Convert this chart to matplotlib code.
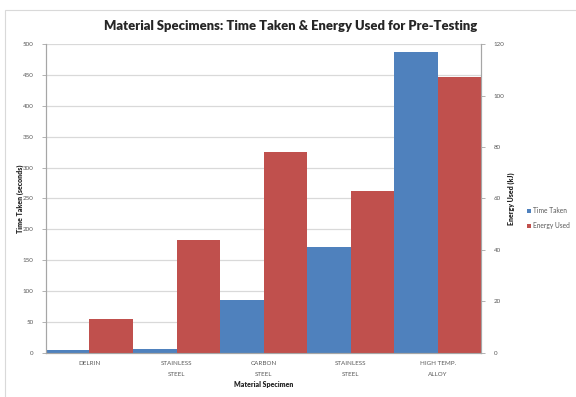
import matplotlib
matplotlib.use("Agg")
import matplotlib.pyplot as plt
from matplotlib.patches import Rectangle
import numpy as np

plt.rcParams['font.family'] = ['Lato', 'DejaVu Sans']

categories = ["DELRIN", "STAINLESS\nSTEEL", "CARBON\nSTEEL", "STAINLESS\nSTEEL", "HIGH TEMP.\nALLOY"]
time_taken = [4, 6, 85, 171, 488]          # seconds
energy_used = [13.1, 44.0, 78.2, 63.1, 107.3]  # kJ

blue = "#4F81BD"
red = "#C0504D"
tick_color = "#595959"

fig = plt.figure(figsize=(5.76, 3.97), dpi=100)
ax = fig.add_axes([0.0797, 0.1116, 0.756, 0.7768])
ax2 = ax.twinx()

x = np.arange(len(categories))
w = 0.5
ax.bar(x - w / 2, time_taken, width=w, color=blue, zorder=2, label="Time Taken")
ax2.bar(x + w / 2, energy_used, width=w, color=red, zorder=2, label="Energy Used")

ax.set_xlim(-0.5, len(categories) - 0.5)
ax.set_ylim(0, 500)
ax2.set_ylim(0, 120)
ax.set_yticks(np.arange(0, 501, 50))
ax2.set_yticks(np.arange(0, 121, 20))

ax.yaxis.grid(True, color="#d9d9d9", linewidth=0.9, zorder=0)
ax.set_axisbelow(True)

for a in (ax, ax2):
    a.spines["top"].set_visible(False)
    for side in ("left", "right", "bottom"):
        a.spines[side].set_color("#a6a6a6")
        a.spines[side].set_linewidth(0.8)
    a.tick_params(axis="y", labelsize=4.5, colors="#a6a6a6", labelcolor=tick_color,
                  length=3, width=0.6, pad=6)

ax.set_xticks(x)
ax.set_xticklabels(categories, fontsize=4.5, color=tick_color, linespacing=2.4)
ax.tick_params(axis="x", length=0, pad=6)

label_font = dict(fontsize=5, fontweight="heavy", color="#262626")
ax.set_xlabel("Material Specimen", labelpad=3, **label_font)
ax.set_ylabel("Time Taken (seconds)", labelpad=-1, **label_font)
ax2.set_ylabel("Energy Used (kJ)", rotation=90, labelpad=2, **label_font)

fig.text(0.505, 0.935, "Material Specimens: Time Taken & Energy Used for Pre-Testing",
         ha="center", va="center", fontsize=9.4, fontweight="heavy", color="#262626")

h1, l1 = ax.get_legend_handles_labels()
h2, l2 = ax2.get_legend_handles_labels()
fig.legend(h1 + h2, l1 + l2, loc="center left", bbox_to_anchor=(0.905, 0.45),
           frameon=False, fontsize=4.8, handlelength=0.6, handleheight=0.6,
           handletextpad=0.3, labelspacing=1.2, labelcolor=tick_color)

fig.patches.append(Rectangle((4.5 / 576, -0.05), 1.2, 1 - 10 / 397 + 0.05,
                             transform=fig.transFigure, fill=False,
                             edgecolor="#d9d9d9", linewidth=0.8))

fig.savefig("out.png", dpi=100)
